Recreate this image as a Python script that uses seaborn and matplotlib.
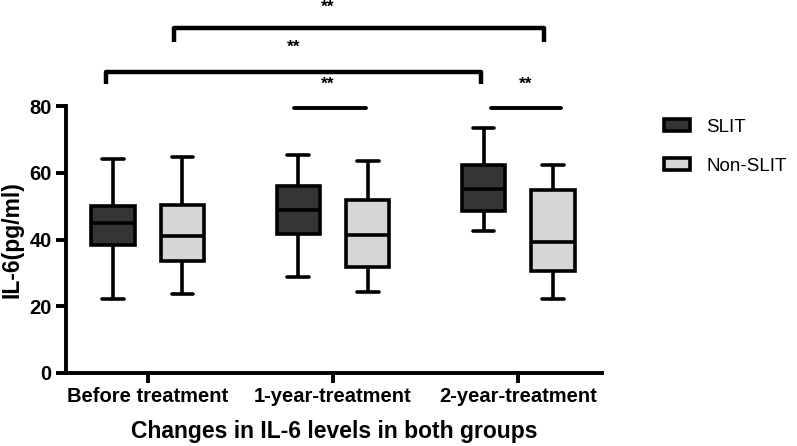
import matplotlib
matplotlib.use("Agg")
import matplotlib.pyplot as plt
import seaborn as sns
import pandas as pd

# box statistics (min, Q1, median, Q3, max)
groups = ["Before treatment", "1-year-treatment", "2-year-treatment"]
slit_min = [22.2, 28.7, 42.5]
slit_q1 = [38.3, 41.7, 48.6]
slit_med = [45.0, 48.7, 55.0]
slit_q3 = [50.1, 56.1, 62.3]
slit_max = [64.0, 65.4, 73.3]
non_min = [23.7, 24.3, 22.2]
non_q1 = [33.5, 31.7, 30.5]
non_med = [41.2, 41.3, 39.3]
non_q3 = [50.3, 51.9, 54.8]
non_max = [64.6, 63.6, 62.3]

rows = []
for i, g in enumerate(groups):
    for v in [slit_min[i], slit_q1[i], slit_med[i], slit_q3[i], slit_max[i]]:
        rows.append((g, "SLIT", v))
    for v in [non_min[i], non_q1[i], non_med[i], non_q3[i], non_max[i]]:
        rows.append((g, "Non-SLIT", v))
df = pd.DataFrame(rows, columns=["group", "treat", "il6"])

sns.set_style("ticks")
plt.rcParams["font.family"] = ["Liberation Sans", "DejaVu Sans"]
plt.rcParams.update({"text.color": "black", "axes.labelcolor": "black",
                     "xtick.color": "black", "ytick.color": "black",
                     "axes.edgecolor": "black"})

fig, ax = plt.subplots(figsize=(7.97, 4.46), dpi=100)
fig.subplots_adjust(left=0.083, right=0.755, bottom=0.164, top=0.762)

lw = 2.6
sns.boxplot(data=df, x="group", y="il6", hue="treat", order=groups,
            hue_order=["SLIT", "Non-SLIT"],
            palette={"SLIT": "#353535", "Non-SLIT": "#d6d6d6"},
            width=0.75, gap=0.375, whis=(0, 100), linewidth=lw,
            linecolor="black", ax=ax)

ax.set_ylim(0, 80)
ax.set_xlim(-0.44, 2.45)
ax.set_yticks([0, 20, 40, 60, 80])
for s in ["top", "right"]:
    ax.spines[s].set_visible(False)
for s in ["left", "bottom"]:
    ax.spines[s].set_linewidth(2.8)
ax.tick_params(width=2.8, length=7)
ax.tick_params(axis="x", labelsize=14.5)
ax.tick_params(axis="y", labelsize=14.5)
for t in ax.get_xticklabels() + ax.get_yticklabels():
    t.set_fontweight("bold")
ax.set_xlabel("Changes in IL-6 levels in both groups", fontsize=16.5,
              fontweight="bold", labelpad=10)
ax.set_ylabel("IL-6(pg/ml)", fontsize=16.5, fontweight="bold", labelpad=4)

# significance brackets: (x1, x2, y_top, y_end)
brackets = [(-0.225, 1.80, 90.1, 86.5), (0.14, 2.14, 103.3, 99.1)]
for x1, x2, yt, ye in brackets:
    ax.plot([x1, x1, x2, x2], [ye, yt, yt, ye], color="black", lw=3.2,
            clip_on=False, solid_capstyle="butt")
lines = [(0.79, 1.177, 79.3), (1.85, 2.23, 79.3)]
for x1, x2, y in lines:
    ax.plot([x1, x2], [y, y], color="black", lw=2.8, clip_on=False)
stars = [(0.79, 97.6), (0.973, 109.6), (0.973, 86.5), (2.04, 86.5)]
for x, y in stars:
    ax.text(x, y, "**", ha="center", va="center", fontsize=12.5,
            fontweight="bold", clip_on=False)

handles, labels = ax.get_legend_handles_labels()
ax.legend(handles, labels, loc="upper left", bbox_to_anchor=(1.085, 1.015),
          frameon=False, fontsize=13.5, handlelength=1.4, handleheight=0.6,
          labelspacing=1.15, handletextpad=0.85)

fig.savefig("out.png", dpi=100)
